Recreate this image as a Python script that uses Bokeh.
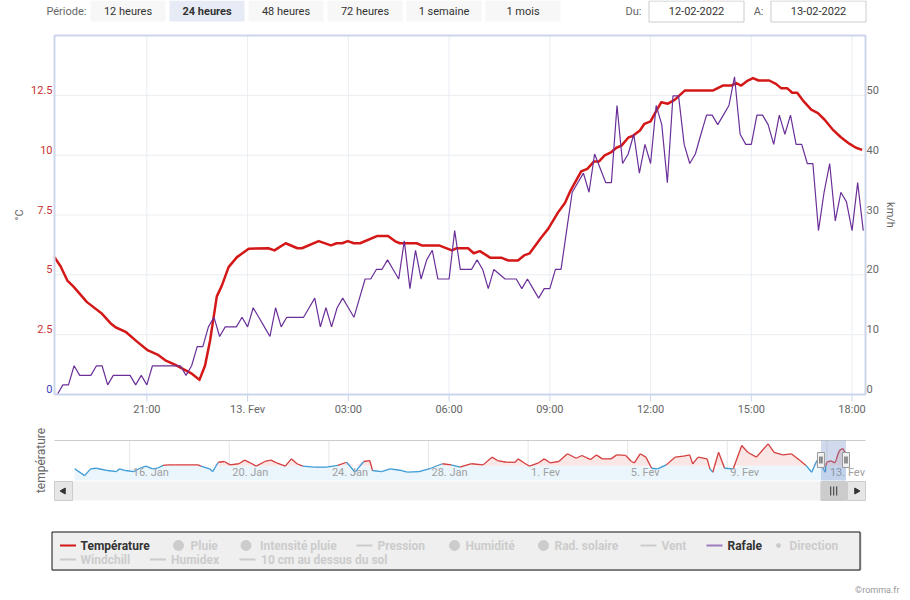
import math
import numpy as np
from bokeh.plotting import figure
from bokeh.models import Range1d
from bokeh.embed import file_html
from bokeh.resources import INLINE
from bokeh.core.properties import value

FONT = "Roboto"

# ---------------- data ----------------
period_buttons = ["12 heures", "24 heures", "48 heures", "72 heures", "1 semaine", "1 mois"]
selected_button = "24 heures"
date_from = "12-02-2022"
date_to = "13-02-2022"

# temperature (°C), time as "day HH:MM" (February 2022)
temp_time = ["12 18:15", "12 18:26", "12 18:38", "12 18:49", "12 19:13", "12 19:40", "12 19:55", "12 20:04",
             "12 20:22", "12 20:43", "12 21:02", "12 21:19", "12 21:33", "12 21:51", "12 22:06", "12 22:21",
             "12 22:34", "12 22:44", "12 22:53", "12 23:05", "12 23:14", "12 23:26", "12 23:41", "13 00:02",
             "13 00:37", "13 00:48", "13 01:08", "13 01:29", "13 01:37", "13 02:07", "13 02:29", "13 02:39",
             "13 02:49", "13 02:59", "13 03:10", "13 03:21", "13 03:51", "13 04:11", "13 04:23", "13 04:32",
             "13 05:02", "13 05:11", "13 05:42", "13 06:05", "13 06:13", "13 06:34", "13 06:44", "13 06:55",
             "13 07:14", "13 07:34", "13 07:46", "13 08:03", "13 08:14", "13 08:24", "13 08:45", "13 08:57",
             "13 09:15", "13 09:27", "13 09:37", "13 09:56", "13 10:07", "13 10:19", "13 10:28", "13 10:38",
             "13 10:50", "13 10:59", "13 11:08", "13 11:20", "13 11:29", "13 11:41", "13 11:49", "13 12:00",
             "13 12:09", "13 12:19", "13 12:31", "13 12:43", "13 13:01", "13 13:51", "13 14:09", "13 14:24",
             "13 14:33", "13 14:42", "13 14:52", "13 15:03", "13 15:13", "13 15:32", "13 15:44", "13 15:53",
             "13 16:04", "13 16:13", "13 16:22", "13 16:32", "13 16:47", "13 16:59", "13 17:11", "13 17:25",
             "13 17:40", "13 17:55", "13 18:07", "13 18:18"]
temp_val = [5.74, 5.35, 4.76, 4.51, 3.86, 3.37, 2.98, 2.81,
            2.62, 2.20, 1.84, 1.67, 1.43, 1.24, 1.05, 0.86,
            0.61, 1.21, 2.26, 4.10, 4.55, 5.32, 5.74, 6.09,
            6.11, 6.02, 6.32, 6.11, 6.11, 6.41, 6.23, 6.32,
            6.32, 6.41, 6.32, 6.32, 6.62, 6.62, 6.41, 6.32,
            6.32, 6.23, 6.23, 6.02, 6.11, 6.11, 5.90, 5.99,
            5.71, 5.71, 5.60, 5.60, 5.81, 5.90, 6.57, 6.92,
            7.62, 8.00, 8.52, 9.32, 9.43, 9.74, 9.74, 9.99,
            10.13, 10.31, 10.40, 10.73, 10.82, 11.03, 11.31, 11.41,
            11.80, 12.21, 12.15, 12.31, 12.70, 12.70, 12.91, 12.91,
            13.01, 12.91, 13.09, 13.22, 13.12, 13.12, 12.98, 12.80,
            12.80, 12.61, 12.61, 12.29, 11.90, 11.76, 11.48, 11.08,
            10.75, 10.48, 10.31, 10.22]

# gusts (km/h), one reading every 10 minutes from gust_start, some readings missing
gust_start = "12 18:20"
gust_step_min = 10
gust_missing = ["13 01:30", "13 07:30", "13 10:30"]
gust_val = [0, 1.6, 1.6, 4.8, 3.2, 3.2, 3.2, 4.8, 4.8, 1.6,
            3.2, 3.2, 3.2, 3.2, 1.6, 3.2, 1.6, 4.8, 4.8, 4.8,
            4.8, 4.8, 4.8, 3.2, 4.8, 8.0, 8.0, 11.3, 12.9, 9.7,
            11.3, 11.3, 11.3, 12.9, 11.3, 14.5, 12.9, 11.3, 9.7, 14.5,
            11.3, 12.9, 12.9, 12.9, 14.5, 16.1, 11.3, 14.5, 11.3, 14.5,
            16.1, 14.5, 12.9, 16.1, 19.3, 19.3, 20.9, 20.9, 22.5, 20.9,
            19.3, 25.7, 17.7, 24.1, 19.3, 22.5, 24.1, 19.3, 19.3, 19.3,
            27.4, 20.9, 20.9, 20.9, 22.5, 20.9, 17.7, 20.9, 19.3, 19.3,
            19.3, 17.7, 19.3, 17.7, 16.1, 17.7, 17.7, 20.9, 20.9, 27.4,
            33.8, 35.4, 37.0, 33.8, 40.2, 35.4, 35.4, 48.3, 38.6, 40.2,
            43.5, 37.0, 41.8, 38.6, 48.3, 45.1, 35.4, 49.9, 49.9, 41.8,
            38.6, 40.2, 43.5, 46.7, 46.7, 45.1, 46.7, 48.3, 53.1, 43.5,
            41.8, 41.8, 46.7, 46.7, 45.1, 41.8, 46.7, 43.5, 46.7, 41.8,
            41.8, 38.6, 38.6, 27.4, 33.8, 38.6, 29.0, 33.8, 32.2, 27.4,
            35.4, 27.4]

x_tick_hours = [21, 24, 27, 30, 33, 36, 39, 42]
x_tick_labels = ["21:00", "13. Fev", "03:00", "06:00", "09:00", "12:00", "15:00", "18:00"]
temp_ticks = [0, 2.5, 5, 7.5, 10, 12.5]
temp_tick_labels = ["0", "2.5", "5", "7.5", "10", "12.5"]
wind_ticks = [0, 10, 20, 30, 40, 50]
wind_tick_labels = ["0", "10", "20", "30", "40", "50"]

# navigator: one month of temperature (°C), days since 12 Jan 2022 00:00
nav_day = [1.79, 2.19, 2.43, 2.66, 3.12, 3.47, 3.59, 3.83, 4.18, 4.41, 4.65, 4.92, 5.11, 5.34, 5.53, 5.81,
           6.75, 6.86, 7.21, 7.33, 7.56, 7.80, 8.03, 8.38, 8.62, 8.84, 9.08, 9.43, 9.67, 9.90, 10.25, 10.49,
           10.72, 10.95, 11.42, 11.89, 12.36, 12.71, 13.05, 13.40, 13.64, 13.75, 14.11, 14.46, 14.92, 15.15,
           15.62, 16.09, 16.56, 16.91, 17.26, 17.73, 18.19, 18.55, 18.77, 19.13, 19.48, 19.60, 19.83, 20.06,
           20.42, 20.65, 20.88, 21.23, 21.58, 21.93, 22.16, 22.51, 22.74, 22.98, 23.33, 23.56, 23.92, 24.15,
           24.27, 24.50, 24.73, 24.96, 25.20, 25.55, 25.90, 26.25, 26.49, 26.61, 26.83, 27.19, 27.30, 27.42,
           27.65, 27.89, 28.24, 28.58, 28.82, 29.17, 29.64, 29.88, 30.23, 30.57, 30.92, 31.16, 31.39, 31.60,
           31.76, 31.80, 31.85, 31.90, 31.94, 31.96, 31.99, 32.03, 32.16, 32.32, 32.37, 32.43, 32.51, 32.63,
           32.70, 32.76]
nav_temp = [2.4, -1.2, 2.4, 2.7, 1.5, 0.95, 2.4, 1.5, 0.95, 2.7, 3.8, 2.4, 2.7, 4.2, 4.5, 4.5,
            4.5, 3.8, 2.4, 0.95, 5.9, 6.3, 4.5, 5.1, 7.0, 5.6, 3.8, 6.3, 7.0, 5.6, 3.8, 7.7,
            5.1, 3.8, 3.3, 3.3, 4.2, 5.9, 0.6, 6.3, 6.8, 1.5, 0.95, 2.4, 1.5, 0.6,
            0.95, 2.7, 5.1, 4.5, 3.3, 5.1, 4.5, 8.6, 6.8, 5.9, 5.9, 7.7, 5.6, 3.8,
            5.6, 7.7, 5.6, 6.3, 10.4, 8.0, 9.5, 7.3, 9.8, 7.7, 7.7, 9.8, 9.5, 6.3,
            5.6, 10.4, 8.6, 2.7, 2.4, 4.5, 8.6, 9.1, 9.8, 5.0, 8.6, 7.7, 2.4, 0.6,
            11.2, 2.7, 2.4, 14.8, 11.2, 8.6, 15.7, 11.2, 9.8, 10.4, 6.8, 4.2, 0.6, 6.8,
            5.74, 3.86, 2.62, 1.43, 0.61, 4.10, 5.74, 6.11, 6.62, 5.60, 6.92, 9.74, 12.21, 13.22,
            11.90, 10.22]
nav_threshold = 4.0
nav_tick_days = [4, 8, 12, 16, 20, 24, 28, 32]
nav_tick_labels = ["16. Jan", "20. Jan", "24. Jan", "28. Jan", "1. Fev", "5. Fev", "9. Fev", "13. Fev"]

legend_names = ["Température", "Pluie", "Intensité pluie", "Pression", "Humidité", "Rad. solaire",
                "Vent", "Rafale", "Direction", "Windchill", "Humidex", "10 cm au dessus du sol"]
legend_visible = ["Température", "Rafale"]

# ---------------- styles / layout ----------------
RED = "#d41818"
PURPLE = "#6a2f98"
FRAME = "#ccd6eb"
GRID = "#e9edf2"
LABEL = "#666666"
PL, PR, PT, PB = 54, 865, 35, 394          # main plot area (page px)
NT, NBOT = 440, 480                        # navigator area (page px)


def hrs(s):
    d, hm = s.split()
    h, m = hm.split(":")
    return (int(d) - 12) * 24 + int(h) + int(m) / 60.0


temp_t = [hrs(s) for s in temp_time]
missing = {round(hrs(s) * 60) for s in gust_missing}
gust_t = []
k = 0
t0 = hrs(gust_start)
while len(gust_t) < len(gust_val):
    t = t0 + k * gust_step_min / 60.0
    if round(t * 60) not in missing:
        gust_t.append(t)
    k += 1

X0, X1 = hrs("12 18:15"), hrs("13 18:24")
NX0, NX1 = 0.98, 33.55
NYB, NYT = -3.81, 17.46


def full_range(va, pa, vb, pb, p_start, p_end):
    kk = (vb - va) / (pb - pa)
    return Range1d(va + (p_start - pa) * kk, va + (p_end - pa) * kk)


f = figure(width=910, height=600, x_range=Range1d(0, 910), y_range=Range1d(600, 0),
           x_axis_location=None, y_axis_location=None, output_backend="svg", toolbar_location=None,
           min_border=0, min_border_left=0, min_border_right=0, min_border_top=0, min_border_bottom=0)
f.outline_line_color = None
f.background_fill_color = "white"
f.border_fill_color = "white"
f.xgrid.visible = False
f.ygrid.visible = False
f.extra_x_ranges = {"time": full_range(X0, PL, X1, PR, 0, 910),
                    "nday": full_range(NX0, PL, NX1, PR, 0, 910)}
f.extra_y_ranges = {"temp": full_range(0, PB, 15, PT, 600, 0),
                    "wind": full_range(0, PB, 60, PT, 600, 0),
                    "ntemp": full_range(NYB, NBOT, NYT, NT, 600, 0)}


def txt(x, y, s, size="11px", color="#333333", align="left", bold=False, **kw):
    if not isinstance(x, list):
        x, y, s = [x], [y], [s]
    f.text(x=x, y=y, text=s, text_font=value(FONT), text_font_size=size, text_color=color,
           text_align=align, text_baseline="middle", text_font_style="bold" if bold else "normal", **kw)


# ---------------- top bar ----------------
txt(86, 10.5, "Période:", color=LABEL, align="right")
bx = 90
for name in period_buttons:
    sel = name == selected_button
    f.quad(left=[bx], right=[bx + 75], top=[0], bottom=[21],
           fill_color="#e6ebf5" if sel else "#f7f7f7", line_color=None)
    txt(bx + 37.5, 10.5, name, color="#333333", align="center", bold=sel)
    bx += 79
txt(641, 10.5, "Du:", color=LABEL, align="right")
f.quad(left=[648.5], right=[743.5], top=[0.5], bottom=[21.5], fill_color="white", line_color="#cccccc")
txt(696, 10.5, date_from, align="center")
txt(763, 10.5, "A:", color=LABEL, align="right")
f.quad(left=[770.5], right=[865.5], top=[0.5], bottom=[21.5], fill_color="white", line_color="#cccccc")
txt(818, 10.5, date_to, align="center")

# ---------------- main chart ----------------
f.segment(x0=x_tick_hours, x1=x_tick_hours, y0=PT, y1=PB, x_range_name="time", line_color=GRID)
f.segment(x0=PL, x1=PR, y0=temp_ticks[1:], y1=temp_ticks[1:], y_range_name="temp", line_color=GRID)
f.segment(x0=x_tick_hours, x1=x_tick_hours, y0=PB, y1=PB + 7, x_range_name="time", line_color=FRAME)
f.line(temp_t, temp_val, x_range_name="time", y_range_name="temp", color=RED, line_width=2.5,
       line_join="round")
f.line(gust_t, gust_val, x_range_name="time", y_range_name="wind", color=PURPLE, line_width=1.2)
f.quad(left=[PL], right=[PR], top=[PT], bottom=[PB], fill_color=None, line_color=FRAME, line_width=2)

txt([PL - 2] * len(temp_ticks), temp_ticks, temp_tick_labels, color=["#4040c0"] + ["#c83232"] * 5,
    align="right", y_range_name="temp", y_offset=-5.5)
txt([PR + 1] * len(wind_ticks), wind_ticks, wind_tick_labels, color=LABEL, align="left",
    y_range_name="wind", y_offset=-5.5)
txt(x_tick_hours, [408.5] * len(x_tick_hours), x_tick_labels, color=LABEL, align="center",
    x_range_name="time")
txt(19, (PT + PB) / 2, "°C", color=LABEL, align="center", angle=math.pi / 2)
txt(890, (PT + PB) / 2, "km/h", color=LABEL, align="center", angle=-math.pi / 2)

# ---------------- navigator ----------------
f.segment(x0=nav_tick_days, x1=nav_tick_days, y0=NT, y1=NBOT, x_range_name="nday", line_color="#e6e6e6")
nd = np.array(nav_day)
nt = np.array(nav_temp)
f.varea(x=nd, y1=np.full_like(nt, NYB), y2=np.minimum(nt, nav_threshold), x_range_name="nday",
        y_range_name="ntemp", fill_color="#eaf5fc")
f.varea(x=nd, y1=np.full_like(nt, nav_threshold), y2=np.maximum(nt, nav_threshold), x_range_name="nday",
        y_range_name="ntemp", fill_color="#fbe6e6")
seg_col = ["#d43f3f" if (a + b) / 2 >= nav_threshold else "#3d9bd6" for a, b in zip(nt[:-1], nt[1:])]
f.segment(x0=nd[:-1], y0=nt[:-1], x1=nd[1:], y1=nt[1:], x_range_name="nday", y_range_name="ntemp",
          line_color=seg_col, line_width=1.3)
txt(nav_tick_days, [471.5] * len(nav_tick_days), nav_tick_labels, color="#a0a0a0", x_range_name="nday",
    x_offset=3)
f.segment(x0=[PL], x1=[PR], y0=[NT], y1=[NT], line_color="#cccccc")

sel0, sel1 = 31 + X0 / 24.0, 31 + X1 / 24.0
f.quad(left=[sel0], right=[sel1], top=[NT], bottom=[NBOT], x_range_name="nday",
       fill_color="#6685c2", fill_alpha=0.3, line_color=None)


def to_px(d):
    return PL + (d - NX0) / (NX1 - NX0) * (PR - PL)


h0, h1 = to_px(sel0), to_px(sel1)
for hx in (h0, h1):
    f.quad(left=[hx - 3.5], right=[hx + 3.5], top=[452], bottom=[467], fill_color="#f2f2f2",
           line_color="#999999")
    f.segment(x0=[hx - 1, hx + 1], x1=[hx - 1, hx + 1], y0=[456, 456], y1=[463, 463],
              line_color="#333333", line_width=1)
# scrollbar
f.quad(left=[PL], right=[PR], top=[481], bottom=[500], fill_color="#f2f2f2", line_color=None)
f.quad(left=[PL, PR - 18], right=[PL + 18, PR], top=[481, 481], bottom=[500, 500],
       fill_color="#e6e6e6", line_color="#cccccc")
f.scatter(x=[PL + 9, PR - 9], y=[490.5, 490.5], marker="triangle", angle=[math.pi / 2, -math.pi / 2],
          size=6, color="#333333")
thumb_r = min(h1 + 1, PR - 19)
f.quad(left=[h0], right=[thumb_r], top=[481], bottom=[500], fill_color="#cccccc", line_color="#cccccc")
hm = (h0 + thumb_r) / 2
f.segment(x0=[hm - 3, hm, hm + 3], x1=[hm - 3, hm, hm + 3], y0=[486] * 3, y1=[495] * 3,
          line_color="#333333", line_width=1)
txt(40, 460, "température", size="12px", color=LABEL, align="center", angle=math.pi / 2)

# ---------------- legend ----------------
f.quad(left=[52], right=[861], top=[532], bottom=[570], fill_color="#d0d0d0", line_color=None)
f.quad(left=[51.5], right=[859.5], top=[531.5], bottom=[569.5], fill_color="#efefef", line_color="#111111",
       line_width=1)
symbols = {"Température": "line", "Pluie": "circle", "Intensité pluie": "circle", "Pression": "line",
           "Humidité": "circle", "Rad. solaire": "circle", "Vent": "line", "Rafale": "line",
           "Direction": "dot", "Windchill": "line", "Humidex": "line", "10 cm au dessus du sol": "line"}
colors = {"Température": RED, "Rafale": "#9b7dc0"}
pos = {"Température": (59.5, 80, 545), "Pluie": (178, 190, 545), "Intensité pluie": (245.5, 259.5, 545),
       "Pression": (356, 377, 545), "Humidité": (454, 465, 545), "Rad. solaire": (543, 554, 545),
       "Vent": (640, 661, 545), "Rafale": (706, 727, 545), "Direction": (778, 789, 545),
       "Windchill": (59.5, 80, 559), "Humidex": (149.5, 170.5, 559),
       "10 cm au dessus du sol": (239, 260.5, 559)}
for name in legend_names:
    vis = name in legend_visible
    sx, tx, y = pos[name]
    c = colors.get(name, "#cccccc") if vis else "#cccccc"
    kind = symbols[name]
    if kind == "line":
        f.segment(x0=[sx], x1=[sx + 16], y0=[y], y1=[y], line_color=c, line_width=2)
    elif kind == "circle":
        f.scatter(x=[sx], y=[y], size=10, color=c)
    else:
        f.scatter(x=[sx], y=[y], size=4, color=c)
    txt(tx, y, name, size="12px", color="#333333" if vis else "#cccccc", bold=True)
txt(899, 589, "©romma.fr", size="9px", color="#999999", align="right")

open("out.html", "w").write(file_html(f, INLINE))
